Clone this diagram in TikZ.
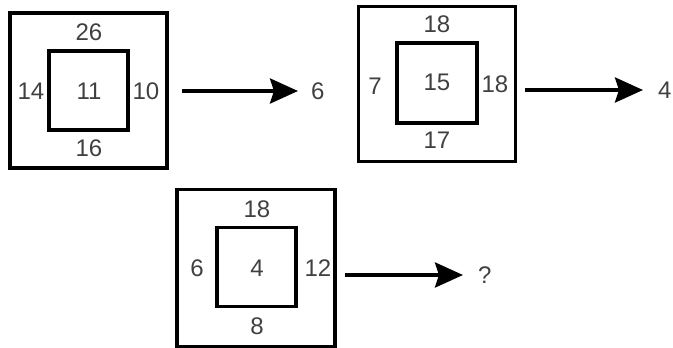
\documentclass[tikz,border=0pt]{standalone}
\usepackage{fontspec}
\setmainfont{Liberation Sans}
\usetikzlibrary{arrows.meta}
\definecolor{txt}{HTML}{404040}
\begin{document}
\begin{tikzpicture}[x=1pt,y=-1pt,
  outerbox/.style={draw=black,line width=3.8pt,minimum width=157pt,minimum height=155pt,inner sep=0pt},
  innerbox/.style={draw=black,line width=3.2pt,minimum width=79pt,minimum height=79pt,inner sep=0pt},
  lbl/.style={text=txt,font=\fontsize{24}{26}\selectfont,inner sep=0pt},
  arr/.style={line width=3.8pt,-{Stealth[length=28pt,width=25pt,inset=4pt]}}]
\useasboundingbox (0,0) rectangle (673,348);
% figure 1
\node[outerbox] (o1) at (88.5,90.5) {};
\node[innerbox] (i1) at (88.5,90.5) {};
\node[lbl] (t1) at (89,32) {26};
\node[lbl] (l1) at (31,91) {14};
\node[lbl] (c1) at (89,91) {11};
\node[lbl] (r1) at (146,91) {10};
\node[lbl] (b1) at (89,148) {16};
\coordinate (s1) at (182,91);
\node[lbl,anchor=west] (a1) at (311,91) {6};
\draw[arr,shorten >=13pt] (s1) -- (a1.west);
% figure 2
\node[outerbox] (o2) at (437,84) {};
\node[innerbox,minimum height=80pt,minimum width=80pt] (i2) at (437,83) {};
\node[lbl] (t2) at (437,24) {18};
\node[lbl] (l2) at (375,86) {7};
\node[lbl] (c2) at (437,82) {15};
\node[lbl] (r2) at (495,84) {18};
\node[lbl] (b2) at (437,140) {17};
\coordinate (s2) at (525,90);
\node[lbl,anchor=west] (a2) at (658,90) {4};
\draw[arr,shorten >=15pt] (s2) -- (a2.west);
% figure 3
\node[outerbox,minimum width=158pt,minimum height=157pt] (o3) at (256,268) {};
\node[innerbox] (i3) at (256.5,267) {};
\node[lbl] (t3) at (257,209) {18};
\node[lbl] (l3) at (197,268) {6};
\node[lbl] (c3) at (257,268) {4};
\node[lbl] (r3) at (318,268) {12};
\node[lbl] (b3) at (257,326) {8};
\coordinate (s3) at (345,275);
\node[lbl,anchor=west] (a3) at (478,275) {?};
\draw[arr,shorten >=15pt] (s3) -- (a3.west);
\end{tikzpicture}
\end{document}
